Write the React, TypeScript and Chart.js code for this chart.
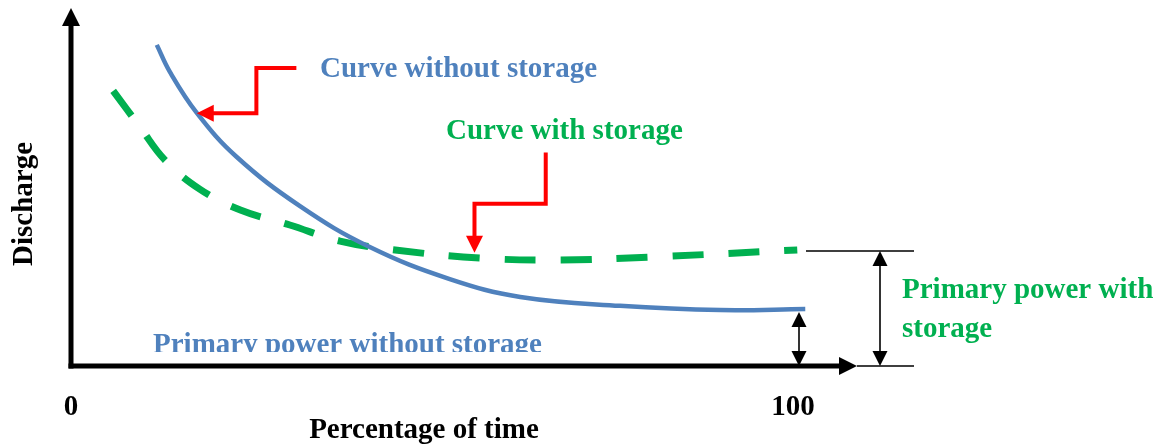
import React, { useEffect, useRef } from "react";
import { Chart, registerables } from "chart.js";

Chart.register(...registerables);

// ---- Data (x = percentage of time, y = discharge, arbitrary units) ----
const blueX = [11.8, 13.6, 17.3, 22.8, 31.5, 41.1, 52.1, 61.8, 75.5, 89.3, 101.0];
const blueY = [90.2, 82.6, 71.1, 58.7, 44.9, 33.4, 24.4, 19.4, 16.9, 15.7, 16.0];

const greenX = [5.8, 9.5, 12.9, 17.7, 23.3, 30.1, 37.0, 44.6, 56.3, 67.3, 79.6, 99.9];
const greenY = [77.3, 67.1, 57.9, 49.7, 43.8, 39.6, 35.1, 32.6, 30.3, 29.8, 30.6, 32.6];

const xTickValues = [0, 100];
const xTickLabels = ["0", "100"];

const xTitle = "Percentage of time";
const yTitle = "Discharge";
const labelWithout = "Curve without storage";
const labelWith = "Curve with storage";
const labelPrimaryWithout = "Primary power without storage";
const labelPrimaryWith = ["Primary power with", "storage"];

// red call-out arrows (in data units)
const arrowWithoutX = [31.0, 25.5, 25.5, 17.3];
const arrowWithoutY = [83.7, 83.7, 71.0, 71.0];
const arrowWithX = [65.3, 65.3, 55.5, 55.5];
const arrowWithY = [60.0, 45.6, 45.6, 31.8];

const BLUE = "#4F81BD";
const GREEN = "#00B050";
const RED = "#FF0000";
const FONT = "bold 29px 'Liberation Serif', 'Times New Roman', serif";

function head(ctx: CanvasRenderingContext2D, tx: number, ty: number, dx: number, dy: number, len: number, hw: number) {
  const bx = tx - dx * len;
  const by = ty - dy * len;
  const px = -dy;
  const py = dx;
  ctx.beginPath();
  ctx.moveTo(tx, ty);
  ctx.lineTo(bx + px * hw, by + py * hw);
  ctx.lineTo(bx - px * hw, by - py * hw);
  ctx.closePath();
  ctx.fill();
}

const diagramPlugin = {
  id: "diagram",
  beforeDatasetsDraw(chart: any) {
    const ctx: CanvasRenderingContext2D = chart.ctx;
    const xs = chart.scales.x;
    const ys = chart.scales.y;
    const x0 = xs.getPixelForValue(0);
    const y0 = ys.getPixelForValue(0);
    const top = chart.chartArea.top;
    ctx.save();
    ctx.fillStyle = "#000";
    ctx.strokeStyle = "#000";
    // y axis
    ctx.lineWidth = 5;
    ctx.beginPath();
    ctx.moveTo(x0, y0 + 2.5);
    ctx.lineTo(x0, top + 14);
    ctx.stroke();
    head(ctx, x0, top - 2, 0, -1, 18, 9);
    // x axis
    const xEnd = xs.getPixelForValue(100) + 59;
    ctx.beginPath();
    ctx.moveTo(x0 - 2.5, y0);
    ctx.lineTo(xEnd - 14, y0);
    ctx.stroke();
    head(ctx, xEnd, y0, 1, 0, 18, 9);
    ctx.restore();
  },
  afterDatasetsDraw(chart: any) {
    const ctx: CanvasRenderingContext2D = chart.ctx;
    const xs = chart.scales.x;
    const ys = chart.scales.y;
    const X = (v: number) => xs.getPixelForValue(v);
    const Y = (v: number) => ys.getPixelForValue(v);
    const y0 = Y(0);
    ctx.save();

    // red call-out arrows
    const drawCallout = (ax: number[], ay: number[]) => {
      ctx.strokeStyle = RED;
      ctx.fillStyle = RED;
      ctx.lineWidth = 4;
      ctx.lineJoin = "miter";
      const n = ax.length;
      const tx = X(ax[n - 1]);
      const ty = Y(ay[n - 1]);
      const px = X(ax[n - 2]);
      const py = Y(ay[n - 2]);
      const d = Math.hypot(tx - px, ty - py);
      const dx = (tx - px) / d;
      const dy = (ty - py) / d;
      ctx.beginPath();
      ctx.moveTo(X(ax[0]), Y(ay[0]));
      for (let i = 1; i < n - 1; i++) ctx.lineTo(X(ax[i]), Y(ay[i]));
      ctx.lineTo(tx - dx * 14, ty - dy * 14);
      ctx.stroke();
      head(ctx, tx, ty, dx, dy, 17, 8.5);
    };
    drawCallout(arrowWithoutX, arrowWithoutY);
    drawCallout(arrowWithX, arrowWithY);

    // dimension lines on the right
    ctx.strokeStyle = "#000";
    ctx.fillStyle = "#000";
    ctx.lineWidth = 1.6;
    const gLevel = Y(greenY[greenY.length - 1]) + 1;
    const bLevel = Y(blueY[blueY.length - 1]) + 3;
    const xA = X(100) + 8;
    const xB = X(100) + 116;
    ctx.beginPath();
    ctx.moveTo(xA, gLevel);
    ctx.lineTo(xB, gLevel);
    ctx.moveTo(X(100) + 59, y0);
    ctx.lineTo(xB, y0);
    ctx.stroke();
    const dbl = (x: number, ya: number, yb: number, len: number, hw: number) => {
      ctx.beginPath();
      ctx.moveTo(x, ya + len - 2);
      ctx.lineTo(x, yb - len + 2);
      ctx.stroke();
      head(ctx, x, ya, 0, -1, len, hw);
      head(ctx, x, yb, 0, 1, len, hw);
    };
    dbl(X(100) + 82, gLevel, y0, 15, 7.5);
    dbl(X(100) + 1, bLevel, y0, 15, 7.5);

    // texts
    ctx.font = FONT;
    ctx.textBaseline = "alphabetic";
    ctx.textAlign = "left";
    ctx.fillStyle = BLUE;
    ctx.fillText(labelWithout, 320, 77);
    ctx.fillStyle = GREEN;
    ctx.fillText(labelWith, 446, 139);
    ctx.fillText(labelPrimaryWith[0], 902, 298);
    ctx.fillText(labelPrimaryWith[1], 902, 337);

    ctx.save();
    ctx.beginPath();
    ctx.rect(0, 0, 1162, 352);
    ctx.clip();
    ctx.fillStyle = BLUE;
    ctx.fillText(labelPrimaryWithout, 153, 352 + 0.5);
    ctx.restore();

    ctx.fillStyle = "#000";
    ctx.textAlign = "center";
    xTickValues.forEach((v, i) => {
      const off = v === 0 ? 0 : -5;
      ctx.fillText(xTickLabels[i], X(v) + off, 415);
    });
    ctx.fillText(xTitle, 424, 438);

    ctx.save();
    ctx.translate(32, 204);
    ctx.rotate(-Math.PI / 2);
    ctx.fillText(yTitle, 0, 0);
    ctx.restore();

    ctx.restore();
  },
};

export default function App() {
  const ref = useRef<HTMLCanvasElement | null>(null);
  useEffect(() => {
    if (!ref.current) return;
    const chart = new Chart(ref.current, {
      type: "line",
      data: {
        datasets: [
          {
            label: labelWithout,
            data: blueX.map((x, i) => ({ x, y: blueY[i] })),
            borderColor: BLUE,
            borderWidth: 4.5,
            pointRadius: 0,
            tension: 0.4,
            fill: false,
            clip: false as any,
          },
          {
            label: labelWith,
            data: greenX.map((x, i) => ({ x, y: greenY[i] })),
            borderColor: GREEN,
            borderWidth: 7,
            borderDash: [31, 25],
            pointRadius: 0,
            tension: 0.4,
            fill: false,
            clip: false as any,
          },
        ],
      },
      options: {
        animation: false,
        responsive: false,
        devicePixelRatio: 1,
        layout: { padding: { left: 71, right: 364, top: 10, bottom: 79 } },
        plugins: { legend: { display: false }, tooltip: { enabled: false } },
        scales: {
          x: { type: "linear", min: 0, max: 100, display: false },
          y: { type: "linear", min: 0, max: 100, display: false },
        },
      },
      plugins: [diagramPlugin],
    });
    return () => chart.destroy();
  }, []);
  return (
    <canvas
      ref={ref}
      width={1162}
      height={445}
      style={{ position: "absolute", left: 0, top: 0, width: 1162, height: 445, background: "#fff" }}
    />
  );
}
